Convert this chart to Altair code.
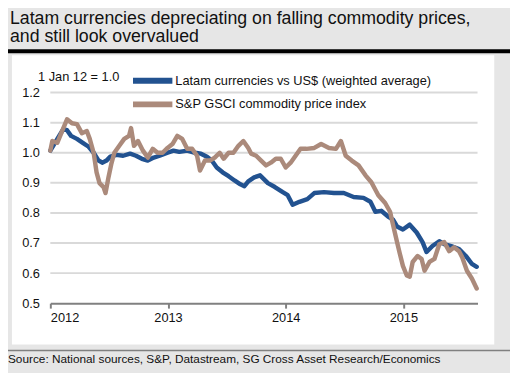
import altair as alt
import pandas as pd

# ---- data ----
series_names = ["Latam currencies vs US$ (weighted average)", "S&P GSCI commodity price index"]
series_colors = ["#225290", "#ab8a7b"]

latam_year = [2012.000, 2012.033, 2012.075, 2012.109, 2012.142, 2012.176, 2012.226, 2012.276, 2012.326, 2012.368,
              2012.410, 2012.444, 2012.477, 2012.510, 2012.561, 2012.619, 2012.678, 2012.728, 2012.778, 2012.828,
              2012.879, 2012.929, 2012.996, 2013.046, 2013.096, 2013.163, 2013.230, 2013.280, 2013.331, 2013.372,
              2013.414, 2013.464, 2013.515, 2013.565, 2013.615, 2013.649, 2013.682, 2013.732, 2013.782, 2013.849,
              2013.908, 2013.975, 2014.017, 2014.059, 2014.117, 2014.184, 2014.243, 2014.326, 2014.410, 2014.494,
              2014.577, 2014.661, 2014.720, 2014.762, 2014.812, 2014.870, 2014.912, 2014.946, 2014.996, 2015.054,
              2015.113, 2015.163, 2015.197, 2015.247, 2015.305, 2015.347, 2015.406, 2015.473, 2015.531, 2015.582,
              2015.623]
latam_val = [1.007, 1.029, 1.056, 1.078, 1.075, 1.056, 1.046, 1.033, 1.020, 1.000,
             0.974, 0.967, 0.974, 0.987, 0.993, 0.990, 0.997, 0.990, 0.980, 0.974,
             0.984, 0.990, 1.000, 1.007, 1.003, 1.007, 1.000, 0.997, 0.987, 0.974,
             0.951, 0.935, 0.922, 0.908, 0.895, 0.889, 0.905, 0.918, 0.925, 0.899,
             0.886, 0.869, 0.859, 0.827, 0.837, 0.846, 0.866, 0.869, 0.866, 0.866,
             0.853, 0.850, 0.837, 0.804, 0.807, 0.788, 0.778, 0.755, 0.745, 0.761,
             0.735, 0.703, 0.670, 0.690, 0.706, 0.696, 0.690, 0.680, 0.657, 0.631,
             0.621]

sp_year = [2012.000, 2012.017, 2012.059, 2012.100, 2012.142, 2012.184, 2012.226, 2012.268, 2012.310, 2012.335,
           2012.368, 2012.393, 2012.418, 2012.452, 2012.469, 2012.494, 2012.519, 2012.544, 2012.586, 2012.628,
           2012.669, 2012.686, 2012.711, 2012.745, 2012.787, 2012.828, 2012.870, 2012.912, 2012.954, 2012.996,
           2013.038, 2013.079, 2013.121, 2013.163, 2013.205, 2013.247, 2013.272, 2013.314, 2013.356, 2013.397,
           2013.439, 2013.473, 2013.515, 2013.556, 2013.598, 2013.640, 2013.682, 2013.707, 2013.749, 2013.791,
           2013.833, 2013.874, 2013.916, 2013.958, 2014.000, 2014.042, 2014.084, 2014.126, 2014.176, 2014.243,
           2014.301, 2014.368, 2014.427, 2014.469, 2014.510, 2014.561, 2014.619, 2014.678, 2014.728, 2014.787,
           2014.845, 2014.887, 2014.912, 2014.946, 2014.971, 2014.996, 2015.029, 2015.054, 2015.079, 2015.121,
           2015.155, 2015.180, 2015.222, 2015.264, 2015.305, 2015.347, 2015.389, 2015.431, 2015.473, 2015.498,
           2015.540, 2015.582, 2015.623]
sp_val = [1.007, 1.039, 1.033, 1.072, 1.111, 1.098, 1.095, 1.065, 1.072, 1.046,
          1.000, 0.935, 0.899, 0.886, 0.866, 0.918, 0.964, 1.000, 1.023, 1.046,
          1.056, 1.082, 1.023, 1.039, 1.007, 0.984, 1.013, 1.000, 1.000, 1.016,
          1.029, 1.056, 1.046, 1.013, 1.013, 0.990, 0.941, 0.974, 0.974, 0.984,
          1.000, 0.980, 1.000, 1.000, 1.023, 1.039, 1.016, 0.997, 0.990, 0.974,
          0.958, 0.967, 0.980, 0.980, 0.951, 0.967, 0.990, 1.013, 1.013, 1.016,
          1.029, 1.016, 1.013, 1.039, 0.990, 0.974, 0.958, 0.925, 0.902, 0.859,
          0.833, 0.804, 0.761, 0.703, 0.663, 0.624, 0.592, 0.588, 0.637, 0.657,
          0.647, 0.608, 0.637, 0.647, 0.696, 0.703, 0.673, 0.686, 0.673, 0.654,
          0.608, 0.582, 0.549]

x_ticks = [2012, 2013, 2014, 2015]
y_ticks = [0.5, 0.6, 0.7, 0.8, 0.9, 1.0, 1.1, 1.2]

title_lines = ["Latam currencies depreciating on falling commodity prices,", "and still look overvalued"]
y_title = "1 Jan 12 = 1.0"
source_text = "Source: National sources, S&P, Datastream, SG Cross Asset Research/Economics"

df = pd.concat([
    pd.DataFrame({"series": series_names[0], "year": latam_year, "value": latam_val, "order": 0}),
    pd.DataFrame({"series": series_names[1], "year": sp_year, "value": sp_val, "order": 1}),
], ignore_index=True)
grid_df = pd.DataFrame({"value": y_ticks[1:]})

one = alt.Data(values=[{"k": 1}])

y_enc = alt.Y("value:Q",
              scale=alt.Scale(domain=[0.5, 1.2], nice=False, zero=False),
              axis=alt.Axis(values=y_ticks, format=".1f", domain=False, ticks=False, grid=False,
                            labelFontSize=13, labelColor="#111111", labelPadding=11,
                            title=y_title, titleAngle=0, titleX=-13, titleY=-12,
                            titleAlign="left", titleBaseline="alphabetic",
                            titleFontSize=13, titleFontWeight="normal", titleColor="#111111",
                            zindex=1))

panel = alt.Chart(one).mark_rect(color="white").encode(
    x=alt.value(-39), x2=alt.value(451), y=alt.value(-38), y2=alt.value(256))

top_rule = alt.Chart(one).mark_rule(color="black", strokeWidth=4).encode(
    x=alt.value(-46), x2=alt.value(470), y=alt.value(-42))

bottom_rule = alt.Chart(one).mark_rule(color="#808080", strokeWidth=1.5).encode(
    x=alt.value(-51), x2=alt.value(470), y=alt.value(262))

source = alt.Chart(one).mark_text(align="left", baseline="alphabetic", fontSize=12, color="#111111").encode(
    x=alt.value(-43), y=alt.value(275), text=alt.value(source_text))

grid = alt.Chart(grid_df).mark_rule(color="#d9d9d9", strokeWidth=2).encode(y=y_enc)

lines = alt.Chart(df).mark_line(strokeWidth=4.5, strokeJoin="round", strokeCap="round").encode(
    x=alt.X("year:Q",
            scale=alt.Scale(domain=[2012, 2015.63], nice=False, zero=False),
            axis=alt.Axis(values=x_ticks, format="d", title=None, grid=False,
                          tickSize=5, tickWidth=2, tickColor="#808080",
                          domainWidth=2, domainColor="#808080",
                          labelFontSize=13, labelColor="#111111", labelPadding=4, zindex=1)),
    y=y_enc,
    color=alt.Color("series:N",
                    scale=alt.Scale(domain=series_names, range=series_colors),
                    legend=alt.Legend(orient="none", legendX=81, legendY=-20, title=None,
                                      symbolType="stroke", symbolSize=1600, symbolStrokeWidth=6,
                                      labelFontSize=13, labelColor="#111111", labelOffset=0,
                                      clipHeight=16, rowPadding=8, labelLimit=400, padding=0)),
    order=alt.Order("order:Q"),
)

chart = alt.layer(panel, top_rule, bottom_rule, source, grid, lines).properties(
    width=434, height=214,
    autosize=alt.AutoSizeParams(type="none"),
    padding={"left": 43, "top": 83, "right": 33, "bottom": 68},
    title=alt.TitleParams(text=title_lines, anchor="start", frame="group", dx=-41, dy=1,
                          fontSize=18, fontWeight="normal", color="#111111", lineHeight=19),
).configure(
    font="Liberation Sans", background="#e6e6e6"
).configure_view(strokeWidth=0)

chart.save("out.html", embed_options={"renderer": "svg", "actions": False})
